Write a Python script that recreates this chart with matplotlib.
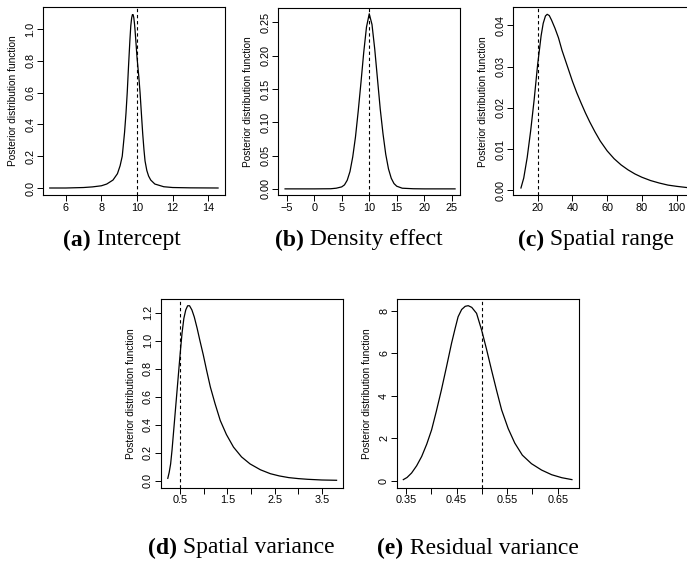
import matplotlib.pyplot as plt

# (a) Intercept
a_x = [5.1, 6.0, 7.0, 7.5, 8.0, 8.3, 8.65, 8.9, 9.05, 9.17, 9.3, 9.38, 9.45, 9.52,
       9.6, 9.65, 9.7, 9.74, 9.78, 9.82, 9.86, 9.89, 9.95, 10.0, 10.1, 10.17, 10.25,
       10.32, 10.39, 10.45, 10.55, 10.65, 10.77, 11.0, 11.5, 12.0, 13.0, 14.55]
a_y = [0.0, 0.0, 0.003, 0.007, 0.014, 0.025, 0.05, 0.09, 0.14, 0.2, 0.35, 0.47, 0.6, 0.76,
       0.93, 1.02, 1.07, 1.09, 1.09, 1.07, 1.03, 0.99, 0.9, 0.82, 0.7, 0.6, 0.46,
       0.34, 0.24, 0.17, 0.11, 0.075, 0.05, 0.025, 0.008, 0.003, 0.001, 0.0]

# (b) Density effect
b_x = [-5.3, 0, 3, 4, 5, 5.5, 6, 6.5, 7, 7.5, 8, 8.5, 9, 9.5, 10, 10.5, 11, 11.5,
       12, 12.5, 13, 13.5, 14, 14.5, 15, 16, 18, 20, 25.6]
b_y = [0.0, 0.0, 0.0002, 0.001, 0.003, 0.006, 0.013, 0.026, 0.048, 0.078, 0.117, 0.16,
       0.205, 0.243, 0.263, 0.247, 0.21, 0.165, 0.12, 0.083, 0.052, 0.03, 0.016, 0.008,
       0.004, 0.001, 0.0002, 0.0, 0.0]

# (c) Spatial range
c_x = [10.4, 12, 14, 16, 18, 20, 22, 23.2, 24.5, 25.5, 26.7, 28, 30, 32, 34, 36, 38, 40,
       42.5, 45, 47.5, 50, 53, 56, 60, 64, 68, 72, 76, 80, 85, 90, 95, 100, 106, 112]
c_y = [0.0006, 0.003, 0.008, 0.0145, 0.022, 0.0305, 0.0375, 0.0405, 0.0423, 0.0427,
       0.0424, 0.0413, 0.0393, 0.037, 0.034, 0.0315, 0.029, 0.0265, 0.0237, 0.0212,
       0.0188, 0.0166, 0.0142, 0.012, 0.0096, 0.0077, 0.0062, 0.005, 0.004, 0.0032,
       0.0024, 0.0018, 0.0013, 0.001, 0.0007, 0.0005]

# (d) Spatial variance
d_x = [0.24, 0.27, 0.30, 0.33, 0.36, 0.40, 0.43, 0.47, 0.50, 0.54, 0.58, 0.62, 0.66,
       0.70, 0.75, 0.80, 0.86, 0.92, 0.99, 1.06, 1.14, 1.24, 1.35, 1.48, 1.63, 1.80,
       1.98, 2.20, 2.41, 2.60, 2.80, 3.00, 3.20, 3.50, 3.81]
d_y = [0.017, 0.06, 0.12, 0.22, 0.34, 0.50, 0.62, 0.78, 0.90, 1.05, 1.16, 1.22, 1.25,
       1.25, 1.22, 1.17, 1.09, 1.00, 0.90, 0.79, 0.67, 0.55, 0.43, 0.33, 0.24, 0.17,
       0.12, 0.078, 0.05, 0.034, 0.022, 0.015, 0.010, 0.005, 0.003]

# (e) Residual variance
e_x = [0.3447, 0.352, 0.361, 0.371, 0.381, 0.391, 0.4006, 0.41, 0.42, 0.43, 0.44, 0.447,
       0.453, 0.46, 0.467, 0.473, 0.48, 0.4895, 0.4994, 0.509, 0.519, 0.529, 0.539,
       0.552, 0.565, 0.58, 0.598, 0.618, 0.638, 0.658, 0.678]
e_y = [0.05, 0.15, 0.36, 0.7, 1.14, 1.72, 2.39, 3.27, 4.27, 5.35, 6.46, 7.15, 7.71, 8.05,
       8.2, 8.23, 8.15, 7.87, 7.09, 6.2, 5.21, 4.25, 3.33, 2.45, 1.77, 1.2, 0.8, 0.5,
       0.28, 0.14, 0.05]

panels = [
    dict(x=a_x, y=a_y, vline=10, xlim=(4.72, 14.94), ylim=(-0.044, 1.138),
         xticks=[6, 8, 10, 12, 14], xlabels=["6", "8", "10", "12", "14"],
         yticks=[0, 0.2, 0.4, 0.6, 0.8, 1.0], ylabels=["0.0", "0.2", "0.4", "0.6", "0.8", "1.0"],
         box=(43, 225, 7, 195), caption=("(a)", " Intercept"), cap_xy=(122, 240)),
    dict(x=b_x, y=b_y, vline=10, xlim=(-6.53, 26.5), ylim=(-0.0092, 0.2717),
         xticks=[-5, 0, 5, 10, 15, 20, 25], xlabels=["\u22125", "0", "5", "10", "15", "20", "25"],
         yticks=[0, 0.05, 0.1, 0.15, 0.2, 0.25],
         ylabels=["0.00", "0.05", "0.10", "0.15", "0.20", "0.25"],
         box=(278.3, 460, 8, 195), caption=("(b)", " Density effect"), cap_xy=(359, 240)),
    dict(x=c_x, y=c_y, vline=20, xlim=(6.0, 114.0), ylim=(-0.0011, 0.0444),
         xticks=[20, 40, 60, 80, 100], xlabels=["20", "40", "60", "80", "100"],
         yticks=[0, 0.01, 0.02, 0.03, 0.04], ylabels=["0.00", "0.01", "0.02", "0.03", "0.04"],
         box=(513.3, 701, 7.3, 195), caption=("(c)", " Spatial range"), cap_xy=(596, 240)),
    dict(x=d_x, y=d_y, vline=0.5, xlim=(0.09, 3.94), ylim=(-0.05, 1.296),
         xticks=[0.5, 1.0, 1.5, 2.0, 2.5, 3.0, 3.5],
         xlabels=["0.5", "", "1.5", "", "2.5", "", "3.5"],
         yticks=[0, 0.2, 0.4, 0.6, 0.8, 1.0, 1.2],
         ylabels=["0.0", "0.2", "0.4", "0.6", "0.8", "1.0", "1.2"],
         box=(160.7, 342.7, 299.3, 487.7), caption=("(d)", " Spatial variance"), cap_xy=(241, 548)),
    dict(x=e_x, y=e_y, vline=0.5, xlim=(0.3316, 0.691), ylim=(-0.33, 8.53),
         xticks=[0.35, 0.40, 0.45, 0.50, 0.55, 0.60, 0.65],
         xlabels=["0.35", "", "0.45", "", "0.55", "", "0.65"],
         yticks=[0, 2, 4, 6, 8], ylabels=["0", "2", "4", "6", "8"],
         box=(396.7, 578.5, 299.3, 487.7), caption=("(e)", " Residual variance"), cap_xy=(478, 548)),
]

W, H = 687, 567
fig = plt.figure(figsize=(W / 100, H / 100), dpi=100)
sans = ["Liberation Sans", "DejaVu Sans"]
serif = ["Liberation Serif", "DejaVu Serif"]

for p in panels:
    l, r, t, b = p["box"]
    ax = fig.add_axes([l / W, 1 - b / H, (r - l) / W, (b - t) / H])
    ax.plot(p["x"], p["y"], color="black", linewidth=0.9)
    ax.axvline(p["vline"], color="black", linewidth=0.8, linestyle=(0, (3, 2.5)))
    ax.set_xlim(*p["xlim"])
    ax.set_ylim(*p["ylim"])
    ax.set_xticks(p["xticks"])
    ax.set_xticklabels(p["xlabels"], fontfamily=sans, fontsize=7.8)
    ax.set_yticks(p["yticks"])
    ax.set_yticklabels(p["ylabels"], fontfamily=sans, fontsize=7.8, rotation=90, va="center")
    ax.tick_params(direction="out", length=4, width=0.7, pad=1.5)
    for s in ax.spines.values():
        s.set_linewidth(0.8)
    ax.set_ylabel("Posterior distribution function", fontfamily=sans, fontsize=7.3)
    ax.yaxis.set_label_coords(-25 / (r - l), 0.5)

    bold, rest = p["caption"]
    t1 = fig.text(0, 0, bold, fontfamily=serif, fontsize=17, fontweight="bold", va="center")
    t2 = fig.text(0, 0, rest, fontfamily=serif, fontsize=17, va="center")
    p["cap_texts"] = (t1, t2)

# centre each two-part caption under its panel
fig.canvas.draw()
renderer = fig.canvas.get_renderer()
for p in panels:
    t1, t2 = p["cap_texts"]
    w1 = t1.get_window_extent(renderer).width
    w2 = t2.get_window_extent(renderer).width
    cx, cy = p["cap_xy"]
    x0 = cx - (w1 + w2) / 2
    t1.set_position((x0 / W, 1 - cy / H))
    t2.set_position(((x0 + w1) / W, 1 - cy / H))

fig.savefig("out.png", dpi=100)
